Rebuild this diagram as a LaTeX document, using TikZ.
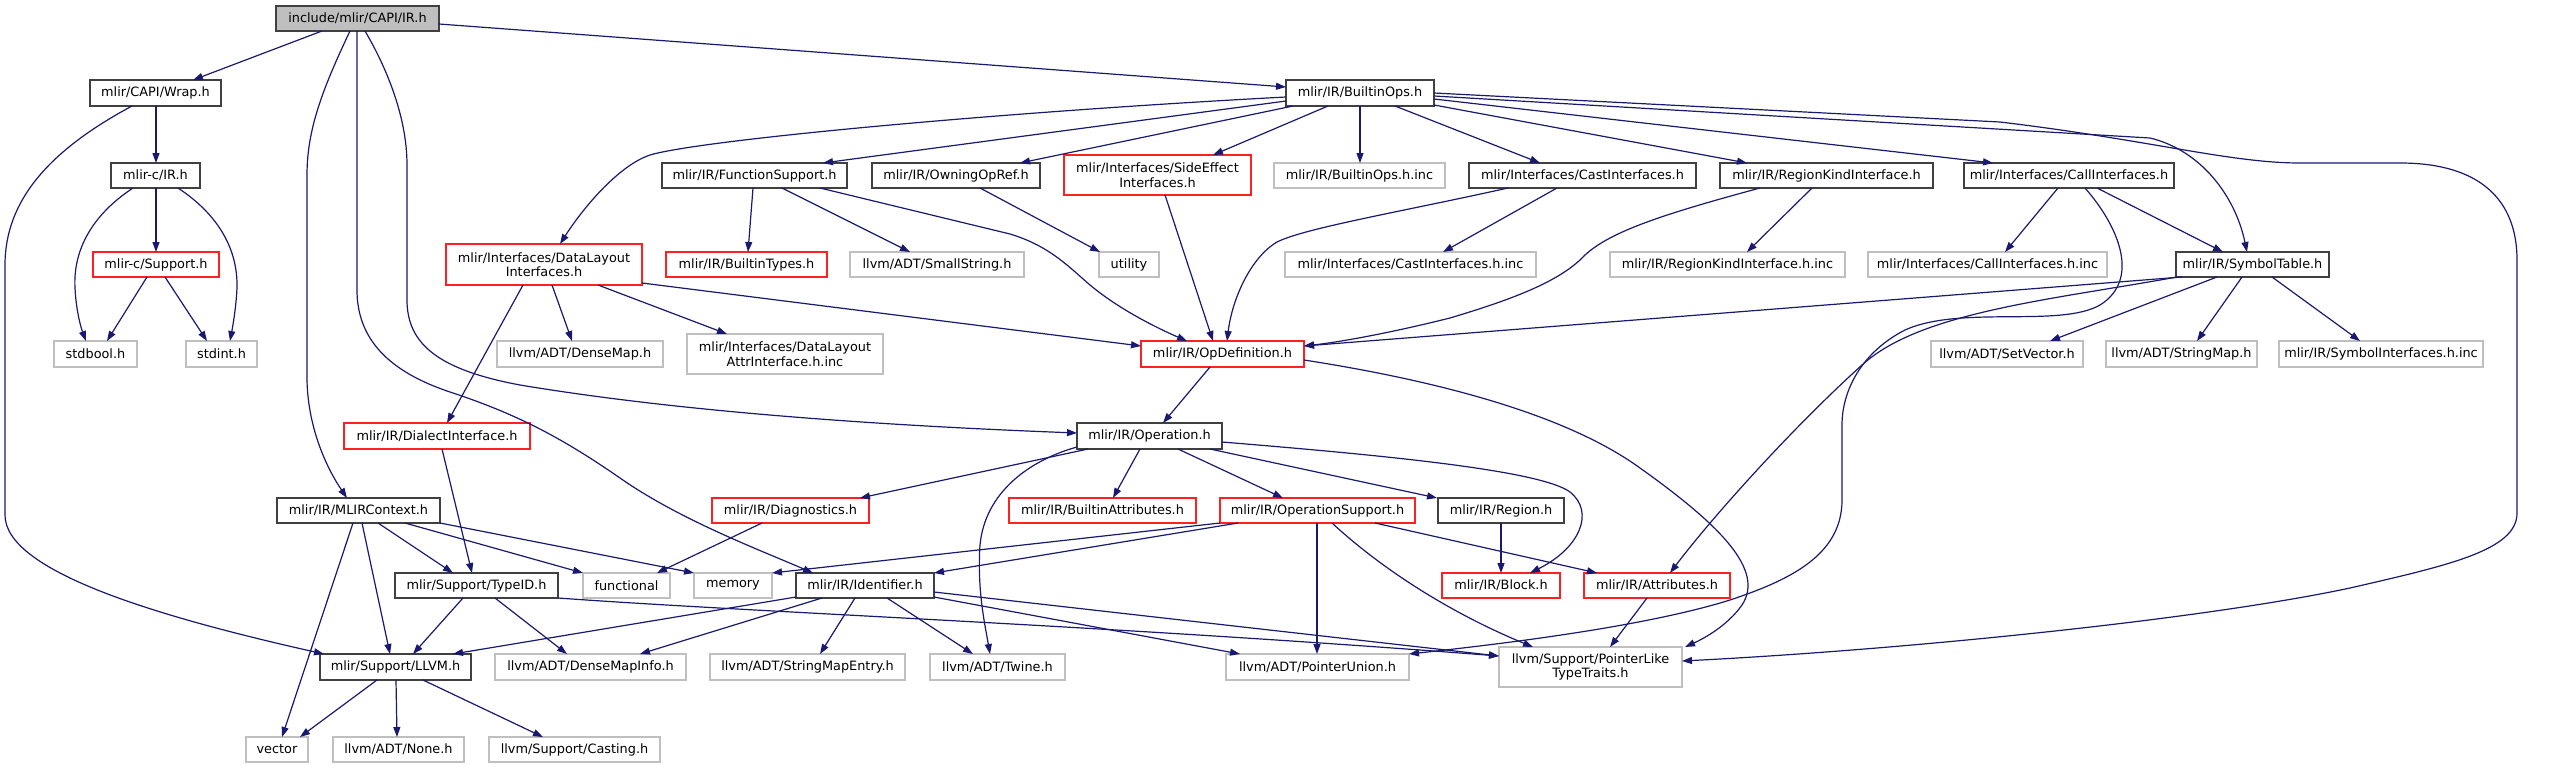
\documentclass[tikz,border=0pt]{standalone}
\usepackage{fontspec}
\setmainfont{DejaVu Sans}
\usetikzlibrary{arrows.meta}
\definecolor{edgec}{HTML}{191970}
\definecolor{grayb}{HTML}{BFBFBF}
\definecolor{redb}{HTML}{FF2020}
\definecolor{darkb}{HTML}{404040}
\newcommand\bx[7]{\node[#6, minimum width={#4pt-#2pt}, minimum height={#5pt-#3pt}] (#1) at ({(#2+#4)/2},{(#3+#5)/2}) {#7};}
\begin{document}
\begin{tikzpicture}[x=1pt,y=-1pt,
  every node/.style={inner sep=0pt, outer sep=0pt, font=\fontsize{12.85}{14.5}\selectfont, align=center, text=black},
  nblk/.style={draw=darkb, line width=1.3pt},
  nred/.style={draw=redb, line width=1.1pt},
  ngry/.style={draw=grayb, line width=1.1pt},
  nroot/.style={draw=darkb, fill=grayb, line width=1.3pt},
  edge/.style={draw=edgec, line width=1.2pt, -{Triangle[length=10pt,width=7pt]}}]
\useasboundingbox (0,0) rectangle (2563,768);

\bx{root}{276}{6}{439}{31}{nroot}{include/mlir/CAPI/IR.h}
\bx{wrap}{90}{80}{221}{106}{nblk}{mlir/CAPI/Wrap.h}
\bx{circ}{111}{163}{200}{188}{nblk}{mlir-c/IR.h}
\bx{csup}{93}{252}{219}{277}{nred}{mlir-c/Support.h}
\bx{stdbool}{54}{341}{137}{367}{ngry}{stdbool.h}
\bx{stdint}{186}{341}{257}{367}{ngry}{stdint.h}
\bx{dl}{446}{244}{642}{285}{nred}{mlir/Interfaces/DataLayout\\Interfaces.h}
\bx{fs}{662}{163}{847}{188}{nblk}{mlir/IR/FunctionSupport.h}
\bx{oor}{872}{163}{1040}{188}{nblk}{mlir/IR/OwningOpRef.h}
\bx{bt}{666}{252}{827}{277}{nred}{mlir/IR/BuiltinTypes.h}
\bx{ss}{850}{252}{1024}{277}{ngry}{llvm/ADT/SmallString.h}
\bx{dm}{497}{341}{663}{367}{ngry}{llvm/ADT/DenseMap.h}
\bx{dla}{687}{334}{883}{374}{ngry}{mlir/Interfaces/DataLayout\\AttrInterface.h.inc}
\bx{bo}{1286}{80}{1434}{106}{nblk}{mlir/IR/BuiltinOps.h}
\bx{se}{1064}{155}{1251}{195}{nred}{mlir/Interfaces/SideEffect\\Interfaces.h}
\bx{boinc}{1274}{163}{1445}{188}{ngry}{mlir/IR/BuiltinOps.h.inc}
\bx{ci}{1469}{163}{1696}{188}{nblk}{mlir/Interfaces/CastInterfaces.h}
\bx{util}{1099}{252}{1159}{277}{ngry}{utility}
\bx{ciinc}{1285}{252}{1536}{277}{ngry}{mlir/Interfaces/CastInterfaces.h.inc}
\bx{opdef}{1141}{341}{1304}{367}{nred}{mlir/IR/OpDefinition.h}
\bx{rk}{1720}{163}{1933}{188}{nblk}{mlir/IR/RegionKindInterface.h}
\bx{calli}{1964}{163}{2174}{188}{nblk}{mlir/Interfaces/CallInterfaces.h}
\bx{rkinc}{1610}{252}{1845}{277}{ngry}{mlir/IR/RegionKindInterface.h.inc}
\bx{callinc}{1868}{252}{2107}{277}{ngry}{mlir/Interfaces/CallInterfaces.h.inc}
\bx{setv}{1931}{341}{2083}{367}{ngry}{llvm/ADT/SetVector.h}
\bx{st}{2176}{252}{2329}{277}{nblk}{mlir/IR/SymbolTable.h}
\bx{smap}{2106}{341}{2257}{367}{ngry}{llvm/ADT/StringMap.h}
\bx{syminc}{2279}{341}{2483}{367}{ngry}{mlir/IR/SymbolInterfaces.h.inc}
\bx{dial}{344}{423}{530}{449}{nred}{mlir/IR/DialectInterface.h}
\bx{mctx}{277}{498}{440}{523}{nblk}{mlir/IR/MLIRContext.h}
\bx{tid}{395}{573}{558}{598}{nblk}{mlir/Support/TypeID.h}
\bx{llvm}{320}{654}{471}{680}{nblk}{mlir/Support/LLVM.h}
\bx{vec}{246}{737}{308}{762}{ngry}{vector}
\bx{none}{333}{737}{464}{762}{ngry}{llvm/ADT/None.h}
\bx{cast}{489}{737}{660}{762}{ngry}{llvm/Support/Casting.h}
\bx{dmi}{495}{654}{686}{680}{ngry}{llvm/ADT/DenseMapInfo.h}
\bx{diag}{712}{498}{869}{523}{nred}{mlir/IR/Diagnostics.h}
\bx{func}{583}{573}{670}{598}{ngry}{functional}
\bx{mem}{694}{573}{772}{598}{ngry}{memory}
\bx{ident}{796}{573}{934}{598}{nblk}{mlir/IR/Identifier.h}
\bx{sme}{710}{654}{905}{680}{ngry}{llvm/ADT/StringMapEntry.h}
\bx{twine}{930}{654}{1065}{680}{ngry}{llvm/ADT/Twine.h}
\bx{op}{1077}{423}{1222}{449}{nblk}{mlir/IR/Operation.h}
\bx{battr}{1009}{498}{1196}{523}{nred}{mlir/IR/BuiltinAttributes.h}
\bx{opsup}{1220}{498}{1415}{523}{nred}{mlir/IR/OperationSupport.h}
\bx{region}{1438}{498}{1564}{523}{nblk}{mlir/IR/Region.h}
\bx{block}{1442}{573}{1560}{598}{nred}{mlir/IR/Block.h}
\bx{pu}{1226}{654}{1409}{680}{ngry}{llvm/ADT/PointerUnion.h}
\bx{pltt}{1499}{647}{1682}{687}{ngry}{llvm/Support/PointerLike\\TypeTraits.h}
\bx{attr}{1584}{573}{1730}{598}{nred}{mlir/IR/Attributes.h}

% root
\draw[edge] (root.south -| 322,0) -- (wrap.north -| 193,0);
\draw[edge] (root.east |- 0,24) -- (bo.west |- 0,87);
\draw[edge] (root.south -| 350,0) .. controls (322,90) and (307,130) .. (307,175) -- (307,380) .. controls (308,430) and (328,470) .. (mctx.north -| 347,0);
\draw[edge] (root.south -| 357,0) -- (357,290) .. controls (357,340) and (390,372) .. (450,392) .. controls (520,415) and (565,440) .. (620,478) .. controls (680,520) and (760,550) .. (ident.north -| 813,0);
\draw[edge] (root.south -| 365,0) .. controls (385,65) and (407,115) .. (407,165) -- (407,300) .. controls (407,345) and (440,370) .. (520,385) .. controls (700,415) and (920,427) .. (op.west |- 0,433);
% wrap, c
\draw[edge] (wrap.south -| 156,0) -- (circ.north -| 156,0);
\draw[edge] (wrap.south -| 132,0) .. controls (50,150) and (5,200) .. (5,265) -- (5,515) .. controls (5,570) and (150,615) .. (llvm.north -| 324,0);
\draw[edge] (circ.south -| 133,0) .. controls (92,215) and (73,250) .. (75,288) .. controls (76,308) and (80,325) .. (stdbool.north -| 86,0);
\draw[edge] (circ.south -| 156,0) -- (csup.north -| 156,0);
\draw[edge] (circ.south -| 178,0) .. controls (219,215) and (238,250) .. (237,288) .. controls (236,308) and (233,325) .. (stdint.north -| 230,0);
\draw[edge] (csup.south -| 147,0) -- (stdbool.north -| 107,0);
\draw[edge] (csup.south -| 165,0) -- (stdint.north -| 207,0);
% builtin ops
\draw[edge] (bo.west |- 0,97) .. controls (1000,112) and (700,140) .. (650,155) .. controls (620,165) and (585,205) .. (dl.north -| 560,0);
\draw[edge] (bo.west |- 0,101) -- (fs.north -| 823,0);
\draw[edge] (bo.south -| 1293,0) -- (oor.north -| 1020,0);
\draw[edge] (bo.south -| 1328,0) -- (se.north -| 1213,0);
\draw[edge] (bo.south -| 1360,0) -- (boinc.north -| 1360,0);
\draw[edge] (bo.south -| 1395,0) -- (ci.north -| 1540,0);
\draw[edge] (bo.east |- 0,105) -- (rk.north -| 1747,0);
\draw[edge] (bo.east |- 0,99) -- (calli.north -| 1993,0);
\draw[edge] (bo.east |- 0,96) -- (2150,138) .. controls (2200,150) and (2235,195) .. (st.north -| 2247,0);
\draw[edge] (bo.east |- 0,93) -- (2000,122) .. controls (2150,140) and (2230,163) .. (2300,163) -- (2400,163) .. controls (2480,163) and (2517,200) .. (2517,260) -- (2517,513) .. controls (2517,550) and (2450,565) .. (2350,588) .. controls (2200,620) and (1900,650) .. (pltt.east |- 0,661);
% function support etc
\draw[edge] (fs.south -| 753,0) -- (bt.north -| 748,0);
\draw[edge] (fs.south -| 782,0) -- (ss.north -| 910,0);
\draw[edge] (fs.south -| 820,0) -- (1010,234) .. controls (1050,246) and (1070,268) .. (1090,285) .. controls (1115,306) and (1150,325) .. (opdef.north -| 1187,0);
\draw[edge] (oor.south -| 980,0) -- (util.north -| 1100,0);
\draw[edge] (se.south -| 1165,0) -- (opdef.north -| 1213,0);
\draw[edge] (ci.south -| 1508,0) .. controls (1400,212) and (1305,228) .. (1277,242) .. controls (1250,258) and (1232,300) .. (opdef.north -| 1227,0);
\draw[edge] (ci.south -| 1557,0) -- (ciinc.north -| 1443,0);
\draw[edge] (rk.south -| 1812,0) -- (rkinc.north -| 1747,0);
\draw[edge] (rk.south -| 1760,0) .. controls (1660,215) and (1610,232) .. (1585,255) .. controls (1560,282) and (1510,300) .. (1450,318) .. controls (1390,333) and (1340,342) .. (opdef.east |- 0,346);
\draw[edge] (calli.south -| 2058,0) -- (callinc.north -| 2005,0);
\draw[edge] (calli.south -| 2097,0) -- (st.north -| 2223,0);
\draw[edge] (calli.south -| 2085,0) .. controls (2120,228) and (2140,280) .. (2100,305) .. controls (2060,328) and (1960,305) .. (1905,330) .. controls (1862,352) and (1842,390) .. (1842,425) -- (1842,500) .. controls (1842,555) and (1790,580) .. (1730,600) .. controls (1650,625) and (1520,642) .. (pu.north east);
\draw[edge] (st.south -| 2182,0) -- (opdef.east |- 0,346);
\draw[edge] (st.south -| 2177,0) .. controls (2050,300) and (1920,312) .. (1862,365) .. controls (1790,430) and (1710,520) .. (attr.north -| 1670,0);
\draw[edge] (st.south -| 2217,0) -- (setv.north -| 2050,0);
\draw[edge] (st.south -| 2242,0) -- (smap.north -| 2197,0);
\draw[edge] (st.south -| 2272,0) -- (syminc.north -| 2360,0);
% data layout
\draw[edge] (dl.south -| 523,0) -- (dial.north -| 447,0);
\draw[edge] (dl.south -| 552,0) -- (dm.north -| 572,0);
\draw[edge] (dl.south -| 598,0) -- (dla.north -| 727,0);
\draw[edge] (dl.east |- 0,283) -- (opdef.west |- 0,346);
\draw[edge] (dial.south -| 442,0) -- (tid.north -| 472,0);
% op definition
\draw[edge] (opdef.south -| 1210,0) -- (op.north -| 1163,0);
\draw[edge] (opdef.east |- 0,360) .. controls (1420,378) and (1560,410) .. (1640,468) .. controls (1720,525) and (1765,570) .. (1742,605) .. controls (1728,625) and (1705,638) .. (pltt.north -| 1685,0);
% operation
\draw[edge] (op.south -| 1088,0) -- (diag.north -| 860,0);
\draw[edge] (op.south -| 1140,0) -- (battr.north -| 1113,0);
\draw[edge] (op.south -| 1178,0) -- (opsup.north -| 1283,0);
\draw[edge] (op.south -| 1210,0) -- (region.north -| 1437,0);
\draw[edge] (op.east |- 0,442) .. controls (1380,455) and (1540,470) .. (1570,492) .. controls (1595,512) and (1580,548) .. (block.north -| 1530,0);
\draw[edge] (op.west |- 0,447) .. controls (1030,460) and (985,492) .. (980,545) .. controls (977,590) and (985,625) .. (twine.north -| 990,0);
\draw[edge] (region.south -| 1501,0) -- (block.north -| 1501,0);
% operation support
\draw[edge] (opsup.south west) -- (mem.north east);
\draw[edge] (opsup.south -| 1238,0) -- (ident.north east);
\draw[edge] (opsup.south -| 1317,0) -- (pu.north -| 1317,0);
\draw[edge] (opsup.south -| 1332,0) .. controls (1385,572) and (1455,615) .. (pltt.north -| 1533,0);
\draw[edge] (opsup.south -| 1375,0) -- (attr.north -| 1597,0);
% identifier
\draw[edge] (ident.west |- 0,597) -- (llvm.north -| 453,0);
\draw[edge] (ident.south -| 822,0) -- (dmi.north -| 640,0);
\draw[edge] (ident.south -| 855,0) -- (sme.north -| 820,0);
\draw[edge] (ident.south -| 887,0) -- (twine.north -| 973,0);
\draw[edge] (ident.east |- 0,592) -- (pltt.west |- 0,656);
\draw[edge] (ident.east |- 0,597) -- (pu.north -| 1240,0);
% type id
\draw[edge] (tid.south -| 463,0) -- (llvm.north -| 413,0);
\draw[edge] (tid.south -| 495,0) -- (dmi.north -| 567,0);
\draw[edge] (tid.south east) .. controls (750,612) and (1100,625) .. (pltt.west |- 0,656);
% mlir context
\draw[edge] (mctx.south -| 353,0) -- (vec.north -| 282,0);
\draw[edge] (mctx.south -| 362,0) -- (llvm.north -| 390,0);
\draw[edge] (mctx.south -| 378,0) -- (tid.north -| 453,0);
\draw[edge] (mctx.south -| 405,0) -- (func.north west);
\draw[edge] (mctx.south east) -- (mem.north west);
\draw[edge] (diag.south -| 762,0) -- (func.north -| 657,0);
% llvm
\draw[edge] (llvm.south -| 377,0) -- (vec.north -| 300,0);
\draw[edge] (llvm.south -| 396,0) -- (none.north -| 397,0);
\draw[edge] (llvm.south -| 423,0) -- (cast.north -| 543,0);
\draw[edge] (attr.south -| 1647,0) -- (pltt.north -| 1610,0);
\end{tikzpicture}
\end{document}
